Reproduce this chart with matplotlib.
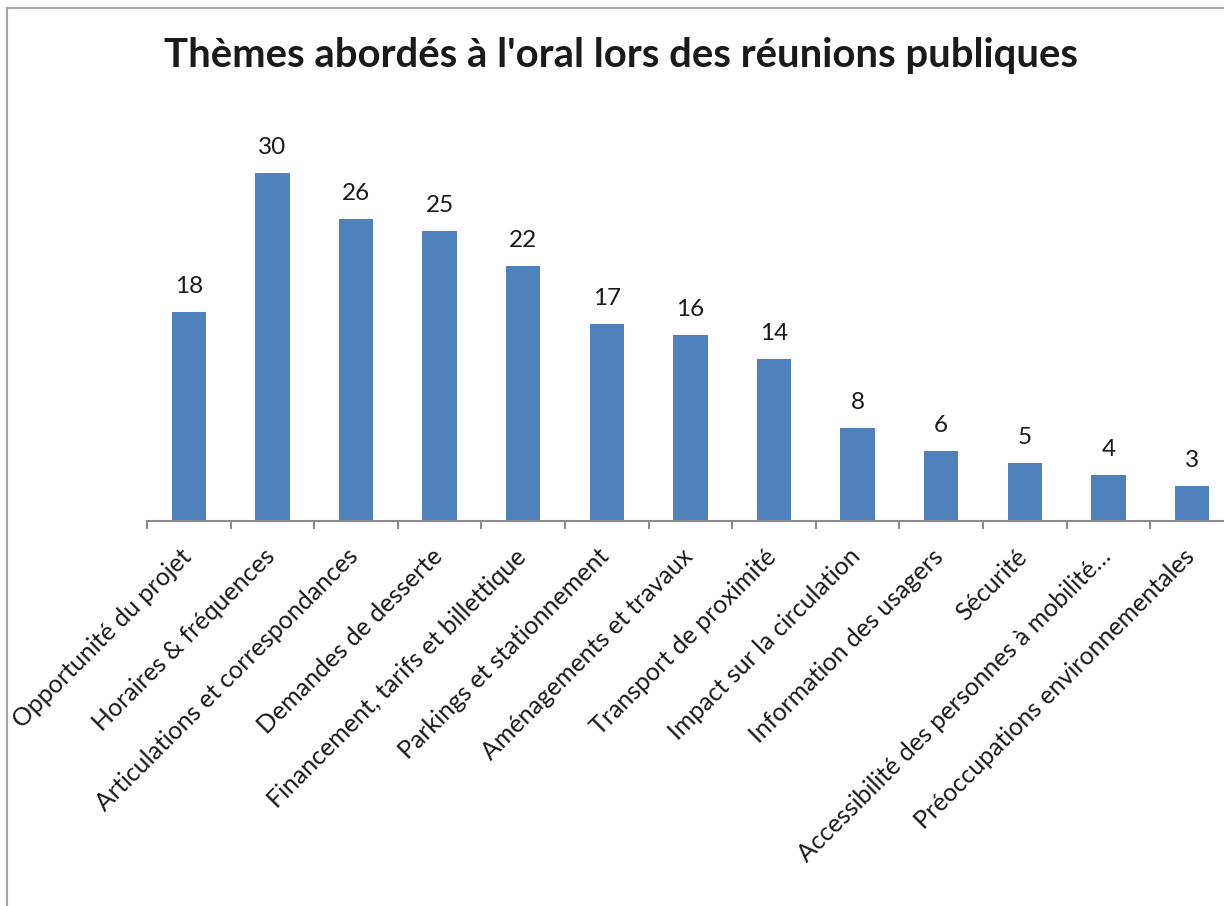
import matplotlib
matplotlib.use("Agg")
import matplotlib.pyplot as plt
from matplotlib.lines import Line2D
import matplotlib.transforms as mtransforms

plt.rcParams['font.family'] = ['Lato', 'DejaVu Sans']

title = "Thèmes abordés à l'oral lors des réunions publiques"
categories = [
    "Opportunité du projet",
    "Horaires & fréquences",
    "Articulations et correspondances",
    "Demandes de desserte",
    "Financement, tarifs et billettique",
    "Parkings et stationnement",
    "Aménagements et travaux",
    "Transport de proximité",
    "Impact sur la circulation",
    "Information des usagers",
    "Sécurité",
    "Accessibilité des personnes à mobilité…",
    "Préoccupations environnementales",
]
values = [18, 30, 26, 25, 22, 17, 16, 14, 8, 6, 5, 4, 3]

W, H = 1224, 906
fig = plt.figure(figsize=(W / 100, H / 100), dpi=100)

# border (top & left visible)
bc = '#a6a6a6'
fig.add_artist(Line2D([7 / W, 1.01], [1 - 8 / H, 1 - 8 / H], transform=fig.transFigure, color=bc, lw=1.5))
fig.add_artist(Line2D([7 / W, 7 / W], [-0.01, 1 - 8 / H], transform=fig.transFigure, color=bc, lw=1.5))

ax_left = 147 / W
ax_w = 13 * 83.6 / W
ax_bottom = (H - 521) / H
ax_h = 35 * 11.6 / H
ax = fig.add_axes([ax_left, ax_bottom, ax_w, ax_h])

x = list(range(len(categories)))
bars = ax.bar(x, values, width=0.41, color='#4F81BD', zorder=2)
ax.set_xlim(-0.5, len(categories) - 0.5)
ax.set_ylim(0, 35)

for xi, v in zip(x, values):
    ax.annotate(str(v), (xi, v), xytext=(0, 15), textcoords='offset pixels',
                ha='center', va='bottom', fontsize=17.5, color='#1a1a1a')

for s in ['top', 'right', 'left']:
    ax.spines[s].set_visible(False)
ax.spines['bottom'].set_color('#8c8c8c')
ax.spines['bottom'].set_linewidth(1.5)
ax.set_yticks([])

ax.set_xticks([i - 0.5 for i in range(len(categories) + 1)])
ax.set_xticklabels([])
ax.tick_params(axis='x', which='major', length=6, width=1.5, color='#8c8c8c', direction='out')
ax.set_xticks(x, minor=True)
ax.set_xticklabels(categories, minor=True, rotation=45, ha='right', fontsize=18, color='#1a1a1a')
ax.tick_params(axis='x', which='minor', length=0, pad=17)
offset = mtransforms.ScaledTranslation(7 / 100, 0, fig.dpi_scale_trans)
for lab in ax.get_xticklabels(minor=True):
    lab.set_transform(lab.get_transform() + offset)

fig.text(621 / W, 1 - 55 / H, title, ha='center', va='center', fontsize=28.8,
         fontweight='bold', color='#1a1a1a')

fig.savefig('out.png', dpi=100)
